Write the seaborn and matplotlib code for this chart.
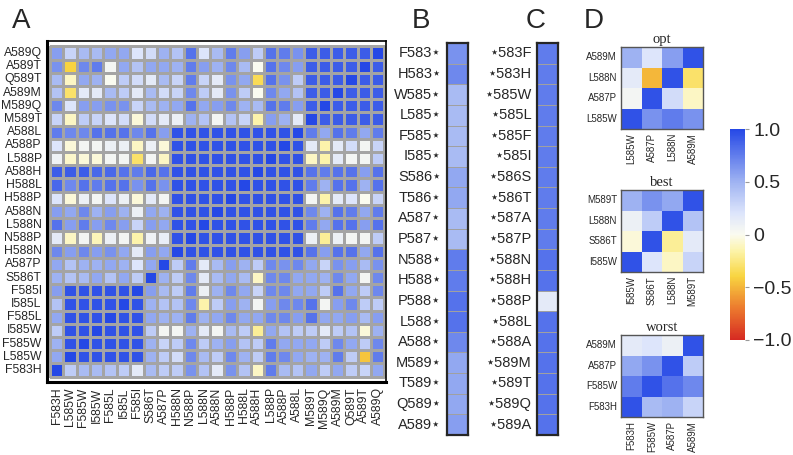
import numpy as np
import matplotlib
matplotlib.use("Agg")
import matplotlib.pyplot as plt
import seaborn as sns
from matplotlib.colors import LinearSegmentedColormap

# mutation labels of panel A, columns left to right (rows are the same list, bottom to top)
muts = ['F583H', 'L585W', 'F585W', 'I585W', 'F585L', 'I585L', 'F585I', 'S586T',
        'A587P', 'H588N', 'N588P', 'L588N', 'A588N', 'H588P', 'H588L', 'A588H',
        'L588P', 'A588P', 'A588L', 'M589T', 'M589Q', 'A589M', 'Q589T', 'A589T', 'A589Q']

D = 0.95  # the saturated block
# panel A values, rows from top (A589Q) to bottom (F583H)
corr_rows = [
    [0.6, 0.3, 0.45, 0.45, 0.55, 0.55, 0.2, 0.25, 0.5, 0.4, 0.8, 0.2, 0.45, 0.75, 0.6, 0.35, 0.8, 0.75, 0.65, .9, .9, .9, .9, .9, 1.0],
    [0.65, -0.4, 0.7, 0.75, 0.05, 0.55, 0.4, 0.55, 0.55, 0.5, 0.75, 0.6, 0.5, 0.7, 0.45, 0.0, 0.8, 0.7, 0.6, .9, .9, .9, .9, 1.0, .9],
    [0.45, -0.1, 0.55, 0.5, 0.0, 0.35, 0.25, 0.15, 0.45, 0.3, 0.75, 0.3, 0.15, 0.65, 0.55, -0.35, 0.8, 0.65, 0.35, .9, .9, .9, 1.0, .9, .9],
    [0.4, -0.3, 0.15, 0.15, 0.45, 0.35, 0.15, 0.45, 0.25, 0.3, 0.7, 0.35, 0.15, 0.65, 0.35, 0.0, 0.7, 0.55, 0.4, .9, .9, 1.0, .9, .9, .9],
    [0.7, 0.2, 0.6, 0.6, 0.65, 0.65, 0.3, 0.45, 0.5, 0.55, 0.8, 0.55, 0.6, 0.7, 0.5, 0.45, 0.8, 0.75, 0.6, .9, 1.0, .9, .9, .9, .9],
    [0.3, -0.1, 0.35, 0.3, 0.2, 0.25, -0.05, 0.25, 0.15, 0.1, 0.5, 0.4, 0.05, 0.4, 0.3, -0.15, 0.6, 0.5, 0.15, 1.0, .9, .9, .9, .9, .9],
    [0.75, 0.7, 0.7, 0.8, 0.8, 0.8, 0.7, 0.8, 0.6, D, D, D, D, D, D, D, D, D, 1.0, 0.75, 0.55, 0.8, 0.75, 0.55, 0.75],
    [0.2, -0.05, 0.05, 0.05, 0.1, 0.1, -0.1, 0.1, -0.05, D, D, D, D, D, D, D, D, 1.0, D, 0.15, -0.15, 0.15, 0.25, 0.05, 0.3],
    [0.08, -0.08, -0.05, -0.05, 0.05, 0.05, -0.3, 0.05, -0.1, D, D, D, D, D, D, D, 1.0, D, D, -0.1, -0.15, 0.15, 0.05, 0.05, 0.35],
    [0.9, 0.9, 0.9, 0.85, 0.85, 0.8, 0.75, 0.85, 0.8, D, D, D, D, D, D, 1.0, D, D, D, 0.8, 0.75, 0.8, 0.8, 0.6, 0.8],
    [0.85, 0.7, 0.8, 0.75, 0.8, 0.8, 0.65, 0.8, 0.65, D, D, D, D, D, 1.0, D, D, D, D, 0.75, 0.5, 0.8, 0.8, 0.5, 0.8],
    [0.2, -0.05, 0.1, 0.05, 0.2, 0.1, -0.05, 0.15, 0.05, D, D, D, D, 1.0, D, D, D, D, D, 0.05, -0.15, 0.15, 0.2, 0.0, 0.3],
    [0.6, 0.55, 0.7, 0.5, 0.6, 0.5, 0.1, 0.55, 0.5, D, D, D, 1.0, D, D, D, D, D, D, 0.7, 0.5, 0.8, 0.75, 0.55, 0.75],
    [0.8, 0.6, 0.75, 0.6, 0.7, 0.6, 0.3, 0.6, 0.55, D, D, 1.0, D, D, D, D, D, D, D, 0.75, 0.55, 0.8, 0.8, 0.6, 0.8],
    [0.15, -0.1, 0.05, -0.12, 0.1, 0.05, -0.15, 0.08, 0.12, D, 1.0, D, D, D, D, D, D, D, D, 0.1, -0.2, 0.1, 0.05, 0.05, 0.35],
    [0.7, 0.6, 0.7, 0.6, 0.65, 0.55, 0.15, 0.6, 0.55, 1.0, D, D, D, D, D, D, D, D, D, 0.8, 0.6, 0.8, 0.8, 0.55, 0.8],
    [0.55, 0.4, 0.5, 0.5, 0.55, 0.5, 0.2, 0.55, 1.0, 0.35, 0.75, 0.15, 0.45, 0.6, 0.5, 0.35, 0.7, 0.65, 0.7, 0.55, 0.3, 0.65, 0.6, 0.45, 0.65],
    [0.5, 0.4, 0.45, 0.55, 0.4, 0.55, 0.35, 1.0, 0.5, 0.35, 0.7, 0.15, 0.45, 0.55, 0.45, -0.1, 0.7, 0.7, 0.55, 0.55, 0.5, 0.7, 0.55, 0.05, 0.7],
    [0.6, D, D, D, D, D, 1.0, 0.6, 0.45, 0.35, 0.75, 0.1, 0.5, 0.7, 0.55, 0.3, 0.7, 0.7, 0.55, 0.55, 0.35, 0.8, 0.55, 0.35, 0.7],
    [0.4, D, D, D, D, 1.0, D, 0.5, 0.4, 0.4, 0.7, -0.15, 0.35, 0.6, 0.5, 0.05, 0.6, 0.7, 0.7, 0.8, 0.05, 0.6, 0.7, 0.35, 0.35],
    [0.55, D, D, D, 1.0, D, D, 0.55, 0.5, 0.5, 0.75, 0.5, 0.55, 0.7, 0.55, 0.55, 0.7, 0.7, 0.6, 0.8, 0.55, 0.55, 0.6, 0.45, 0.6],
    [0.35, D, D, 1.0, D, D, D, 0.35, 0.05, 0.05, 0.5, 0.15, 0.05, 0.45, 0.35, -0.2, 0.55, 0.4, 0.35, 0.35, 0.15, 0.35, 0.4, -0.05, 0.5],
    [0.5, D, 1.0, D, D, D, D, 0.5, 0.3, 0.35, 0.7, 0.35, 0.5, 0.6, 0.4, 0.35, 0.75, 0.55, 0.55, 0.55, 0.35, 0.7, 0.55, 0.35, 0.7],
    [0.55, 1.0, D, D, D, D, D, 0.5, 0.35, 0.25, 0.7, 0.45, 0.35, 0.7, 0.5, 0.35, 0.75, 0.7, 0.55, 0.5, 0.5, 0.75, 0.35, -0.45, 0.75],
    [1.0, 0.35, 0.45, 0.45, 0.4, 0.35, 0.15, 0.45, 0.35, 0.35, 0.65, 0.4, 0.15, 0.65, 0.4, -0.1, 0.75, 0.45, 0.4, 0.55, 0.35, 0.55, 0.35, 0.3, 0.55],
]

# panel B and C: one column each
b_labels = ['F583', 'H583', 'W585', 'L585', 'F585', 'I585', 'S586', 'T586', 'A587', 'P587',
            'N588', 'H588', 'P588', 'L588', 'A588', 'M589', 'T589', 'Q589', 'A589']
b_vals = [0.65, 0.7, 0.45, 0.45, 0.45, 0.45, 0.55, 0.55, 0.45, 0.45,
          0.75, 0.75, 0.8, 0.8, 0.7, 0.55, 0.55, 0.55, 0.6]
c_labels = ['583F', '583H', '585W', '585L', '585F', '585I', '586S', '586T', '587A', '587P',
            '588N', '588H', '588P', '588L', '588A', '589M', '589T', '589Q', '589A']
c_vals = [0.75, 0.75, 0.75, 0.75, 0.75, 0.75, 0.75, 0.75, 0.75, 0.75,
          0.8, 0.8, 0.15, 0.8, 0.8, 0.8, 0.8, 0.8, 0.8]

# panel D: three 4x4 blocks (rows top to bottom, columns left to right)
opt_rows = ['A589M', 'L588N', 'A587P', 'L585W']
opt_cols = ['L585W', 'A587P', 'L588N', 'A589M']
opt_vals = [[0.5, 0.2, 0.6, 0.95],
            [0.15, -0.5, 0.95, -0.3],
            [0.05, 0.95, 0.25, -0.1],
            [0.95, 0.65, 0.75, 0.65]]
best_rows = ['M589T', 'L588N', 'S586T', 'I585W']
best_cols = ['I585W', 'S586T', 'L588N', 'M589T']
best_vals = [[0.5, 0.65, 0.55, 0.95],
             [0.1, 0.35, 0.95, 0.4],
             [-0.05, 0.95, -0.2, 0.15],
             [0.95, 0.2, -0.1, 0.3]]
worst_rows = ['A589M', 'A587P', 'F585W', 'F583H']
worst_cols = ['F583H', 'F585W', 'A587P', 'A589M']
worst_vals = [[0.15, 0.2, 0.1, 0.95],
              [0.55, 0.65, 0.95, 0.35],
              [0.75, 0.95, 0.8, 0.7],
              [0.95, 0.45, 0.5, 0.3]]

sns.set_style("white")
plt.rcParams['font.family'] = ['Liberation Sans', 'DejaVu Sans']

# red - yellow - white - blue scale
cmap = LinearSegmentedColormap.from_list('ryb', [
    (0.0, '#d62a22'), (0.15, '#ec7a2e'), (0.3, '#f8d440'), (0.42, '#fcf3a8'),
    (0.5, '#fbfbf0'), (0.6, '#dde5fb'), (0.75, '#9fb3f2'), (1.0, '#2548e6')])

W, H = 793, 455
fig = plt.figure(figsize=(W / 100, H / 100), dpi=100)


def box(x0, y0, x1, y1):
    return [x0 / W, 1 - y1 / H, (x1 - x0) / W, (y1 - y0) / H]


# ---- panel A
axA = fig.add_axes(box(47, 41, 386, 382))
sns.heatmap(np.array(corr_rows), ax=axA, cmap=cmap, vmin=-1, vmax=1, cbar=False,
            linewidths=0.8, linecolor='#a4a4a4',
            xticklabels=muts, yticklabels=muts[::-1])
axA.set_xlim(-0.22, 25.12)
axA.set_ylim(25.4, -0.4)
for side, s in axA.spines.items():
    s.set_visible(True)
    s.set_color('black')
    s.set_linewidth(2.2 if side in ('left', 'bottom') else 1.2)
axA.tick_params(axis='both', length=3, width=1.3, labelsize=8.8, pad=0.8, direction='out')
axA.tick_params(axis='x', labelrotation=90)
axA.tick_params(axis='y', labelrotation=0)

# ---- panels B and C
for vals, labels, x0, star_first in [(b_vals, b_labels, 447, False), (c_vals, c_labels, 537, True)]:
    ax = fig.add_axes(box(x0, 43, x0 + 21, 435))
    ticks = [('\u22c6' + l) if star_first else (l + '\u22c6') for l in labels]
    sns.heatmap(np.array(vals)[:, None], ax=ax, cmap=cmap, vmin=-1, vmax=1, cbar=False,
                linewidths=0.5, linecolor='#a0a0a0', xticklabels=False, yticklabels=ticks)
    for s in ax.spines.values():
        s.set_visible(True)
        s.set_linewidth(1.6)
    ax.tick_params(axis='y', length=3, width=1, labelsize=10.5, pad=1, labelrotation=0)

# ---- panel D
blocks = [(opt_vals, opt_rows, opt_cols, 'opt', 47),
          (best_vals, best_rows, best_cols, 'best', 190),
          (worst_vals, worst_rows, worst_cols, 'worst', 335)]
for vals, rows, cols, title, y0 in blocks:
    ax = fig.add_axes(box(621, y0, 703, y0 + 82))
    sns.heatmap(np.array(vals), ax=ax, cmap=cmap, vmin=-1, vmax=1, cbar=False,
                xticklabels=cols, yticklabels=rows)
    for s in ax.spines.values():
        s.set_visible(True)
        s.set_color('#555555')
        s.set_linewidth(1.0)
    ax.tick_params(axis='both', length=2, width=0.6, labelsize=7.0, pad=0.8)
    ax.tick_params(axis='x', labelrotation=90)
    ax.tick_params(axis='y', labelrotation=0)
    ax.set_title(title, family='Liberation Serif', fontsize=10.5, pad=3)

cax = fig.add_axes(box(730, 129, 745, 340))
sm = plt.cm.ScalarMappable(cmap=cmap, norm=plt.Normalize(-1, 1))
cb = fig.colorbar(sm, cax=cax)
cb.outline.set_visible(False)
cb.set_ticks([1.0, 0.5, 0, -0.5, -1.0])
cb.set_ticklabels(['1.0', '0.5', '0', '\u22120.5', '\u22121.0'])
cax.tick_params(labelsize=14, length=3, color='#999999', pad=3)

# panel letters
for letter, x in [('A', 12), ('B', 412), ('C', 526), ('D', 584)]:
    fig.text(x / W, 1 - 28 / H, letter, fontsize=20)

fig.savefig('out.png', dpi=100)
